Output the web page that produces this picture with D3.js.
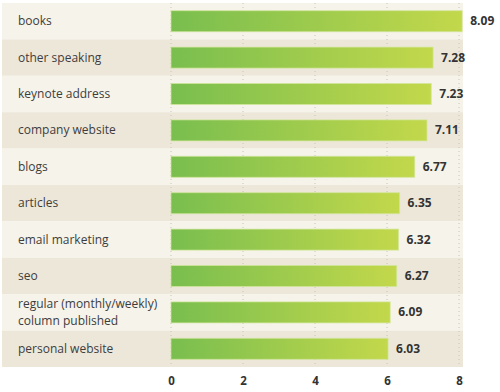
<!DOCTYPE html>
<meta charset="utf-8">
<title>Bar chart</title>
<style>
body { margin: 0; background: #fff; }
svg text { font-family: "Open Sans", Lato, sans-serif; }
.axis text { font-weight: 700; fill: #333; font-size: 11.5px; }
</style>
<script src="https://d3js.org/d3.v7.min.js"></script>
<div id="chart"></div>
<script>

// data
var categories = ["books", "other speaking", "keynote address", "company website", "blogs",
  "articles", "email marketing", "seo", "regular (monthly/weekly)\ncolumn published", "personal website"];
var values = [8.09, 7.28, 7.23, 7.11, 6.77, 6.35, 6.32, 6.27, 6.09, 6.03];
var ticks = [0, 2, 4, 6, 8];

var width = 500, height = 392;
var margin = {top: 3, bottom: 25, left: 2, right: 37};

var svg = d3.select("#chart").append("svg")
  .attr("width", width)
  .attr("height", height);

var x = d3.scaleLinear().domain([0, 8]).range([171, 459]);
var y = d3.scaleBand().domain(d3.range(categories.length))
  .range([margin.top, height - margin.bottom]);

// gradient for the bars
var grad = svg.append("defs").append("linearGradient")
  .attr("id", "barGrad")
  .attr("x1", "0%").attr("x2", "100%");
grad.append("stop").attr("offset", "0%").attr("stop-color", "#79be4f");
grad.append("stop").attr("offset", "100%").attr("stop-color", "#c3d84b");

// row stripes
svg.selectAll(".row")
  .data(categories)
  .enter().append("rect")
  .attr("x", margin.left)
  .attr("y", function(d, i) { return y(i); })
  .attr("width", x(8) + 4 - margin.left)
  .attr("height", y.bandwidth())
  .attr("fill", function(d, i) { return i % 2 ? "#ede7da" : "#f6f3ea"; });

// dotted grid lines
svg.selectAll(".grid")
  .data(ticks)
  .enter().append("line")
  .attr("x1", function(d) { return x(d); })
  .attr("x2", function(d) { return x(d); })
  .attr("y1", y.range()[0])
  .attr("y2", y.range()[1])
  .attr("stroke", "#c9c4b8")
  .attr("stroke-width", 1)
  .attr("stroke-dasharray", "1,3");

// bars
var barH = 21;
svg.selectAll(".bar")
  .data(values)
  .enter().append("rect")
  .attr("x", x(0))
  .attr("y", function(d, i) { return y(i) + (y.bandwidth() - barH) / 2; })
  .attr("width", function(d) { return x(d) - x(0); })
  .attr("height", barH)
  .attr("fill", "url(#barGrad)")
  .attr("stroke", "#d2e79a")
  .attr("stroke-opacity", 0.7)
  .attr("stroke-width", 1);

// value labels
svg.selectAll(".val")
  .data(values)
  .enter().append("text")
  .attr("x", function(d) { return x(d) + 8; })
  .attr("y", function(d, i) { return y(i) + y.bandwidth() / 2 + 4; })
  .attr("font-size", "12px")
  .attr("font-weight", 700)
  .attr("fill", "#333")
  .text(function(d) { return d.toFixed(2); });

// category labels (one text per line so wrapped labels stay apart)
var lineGap = 16.5;
categories.forEach(function(d, i) {
  var lines = d.split("\n");
  lines.forEach(function(line, k) {
    svg.append("text")
      .attr("x", 18)
      .attr("y", y(i) + y.bandwidth() / 2 + 4 - (lines.length - 1) * lineGap / 2 + k * lineGap)
      .attr("font-size", "12px")
      .attr("fill", "#3d3d3d")
      .text(line);
  });
});

// x axis
var axis = svg.append("g")
  .attr("class", "axis")
  .attr("transform", "translate(0," + (height - 15) + ")")
  .call(d3.axisBottom(x).tickValues(ticks).tickSize(0).tickPadding(0));
axis.select(".domain").remove();

</script>
